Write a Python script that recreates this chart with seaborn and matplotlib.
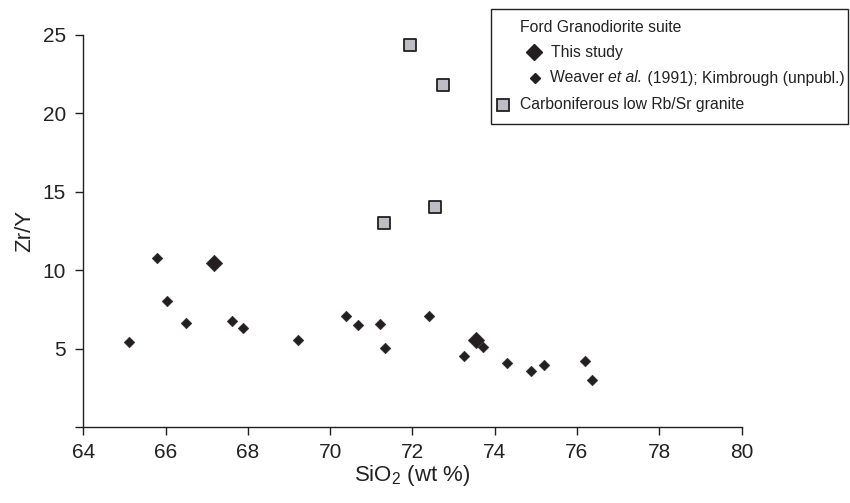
import matplotlib
matplotlib.use("Agg")
import matplotlib.pyplot as plt
import seaborn as sns
import pandas as pd
from matplotlib.patches import Rectangle
from matplotlib.lines import Line2D
from matplotlib.transforms import offset_copy

# ---- data ----
study_sio2 = [67.18, 73.54]
study_zry = [10.48, 5.55]

other_sio2 = [65.12, 65.79, 66.03, 66.49, 67.62, 67.88, 69.22, 70.38, 70.67, 71.21,
              71.34, 72.40, 73.72, 73.25, 74.30, 74.88, 75.20, 76.19, 76.36]
other_zry = [5.40, 10.76, 8.05, 6.61, 6.76, 6.33, 5.55, 7.08, 6.51, 6.57,
             5.06, 7.08, 5.08, 4.51, 4.06, 3.57, 3.97, 4.19, 3.00]

carb_sio2 = [71.94, 72.74, 72.55, 71.30]
carb_zry = [24.34, 21.83, 14.05, 13.01]

x_ticks = [64, 66, 68, 70, 72, 74, 76, 78, 80]
y_ticks = [0, 5, 10, 15, 20, 25]
y_ticklabels = ["", "5", "10", "15", "20", "25"]

legend_header = "Ford Granodiorite suite"
legend_study = "This study"
legend_other_parts = [("Weaver ", "normal"), ("et al.", "italic"),
                      (" (1991); Kimbrough (unpubl.)", "normal")]
legend_carb = "Carboniferous low Rb/Sr granite"

DARK = "#231f20"
GREY = "#bcbec3"

sns.set_style("white")
plt.rcParams["font.family"] = ["Liberation Sans", "DejaVu Sans"]
plt.rcParams["mathtext.fontset"] = "custom"
plt.rcParams["mathtext.rm"] = "Liberation Sans"
plt.rcParams["mathtext.it"] = "Liberation Sans:italic"
plt.rcParams["mathtext.default"] = "regular"

fig = plt.figure(figsize=(8.5, 5.03), dpi=100)
ax = fig.add_axes([83.3 / 850, 1 - 427 / 503, (741.5 - 83.3) / 850, (427 - 35) / 503])

df_other = pd.DataFrame({"x": other_sio2, "y": other_zry})
df_study = pd.DataFrame({"x": study_sio2, "y": study_zry})
df_carb = pd.DataFrame({"x": carb_sio2, "y": carb_zry})

sns.scatterplot(data=df_carb, x="x", y="y", ax=ax, marker="s", s=72,
                color=GREY, edgecolor=DARK, linewidth=1.3, zorder=3)
sns.scatterplot(data=df_other, x="x", y="y", ax=ax, marker="D", s=30,
                color=DARK, edgecolor=DARK, linewidth=0.3, zorder=4)
sns.scatterplot(data=df_study, x="x", y="y", ax=ax, marker="D", s=72,
                color=DARK, edgecolor=DARK, linewidth=0.3, zorder=5)

ax.set_xlim(64, 80)
ax.set_ylim(0, 25)
ax.set_xticks(x_ticks)
ax.set_xticklabels([str(t) for t in x_ticks])
ax.set_yticks(y_ticks)
ax.set_yticklabels(y_ticklabels)
for s in ["top", "right"]:
    ax.spines[s].set_visible(False)
for s in ["left", "bottom"]:
    ax.spines[s].set_color(DARK)
    ax.spines[s].set_linewidth(1.0)
ax.tick_params(axis="both", which="major", bottom=True, left=True, direction="out",
               length=5.5, width=1.0, colors=DARK, labelsize=15, labelcolor="#222222")
ax.tick_params(axis="x", pad=6)
ax.tick_params(axis="y", pad=7)
ax.set_xlabel(r"SiO$_\mathregular{2}$ (wt %)", fontsize=16, color="#222222", labelpad=1)
ax.set_ylabel("Zr/Y", fontsize=16, color="#222222", labelpad=5)
ax.grid(False)

# ---- legend (drawn manually, in figure pixel space) ----
W, H = 850.0, 503.0
def fx(px):
    return px / W
def fy(py):
    return 1 - py / H

fig.add_artist(Rectangle((fx(491), fy(124)), fx(848) - fx(491), (124 - 9) / H,
                         transform=fig.transFigure, fill=False, edgecolor=DARK,
                         linewidth=1.0))
fs_leg = 11.3
fig.text(fx(520), fy(27), legend_header, fontsize=fs_leg, va="center", ha="left", color="#222222")
fig.add_artist(Line2D([fx(534)], [fy(52)], marker="D", markersize=8.6, color=DARK,
                      linestyle="none", transform=fig.transFigure))
fig.text(fx(551), fy(52), legend_study, fontsize=fs_leg, va="center", ha="left", color="#222222")
fig.add_artist(Line2D([fx(535)], [fy(78)], marker="D", markersize=5.5, color=DARK,
                      linestyle="none", transform=fig.transFigure))

renderer = fig.canvas.get_renderer()
xoff = 0.0
for txt, style in legend_other_parts:
    tr = offset_copy(fig.transFigure, fig=fig, x=xoff, y=0, units="dots")
    t = fig.text(fx(550), fy(78), txt, fontsize=fs_leg, style=style, va="center",
                 ha="left", color="#222222", transform=tr)
    xoff += t.get_window_extent(renderer=renderer).width

fig.add_artist(Line2D([fx(503)], [fy(105)], marker="s", markersize=8.0, color=GREY,
                      markeredgecolor=DARK, markeredgewidth=1.3, linestyle="none",
                      transform=fig.transFigure))
fig.text(fx(520), fy(105), legend_carb, fontsize=fs_leg, va="center", ha="left", color="#222222")

fig.savefig("out.png", dpi=100)
